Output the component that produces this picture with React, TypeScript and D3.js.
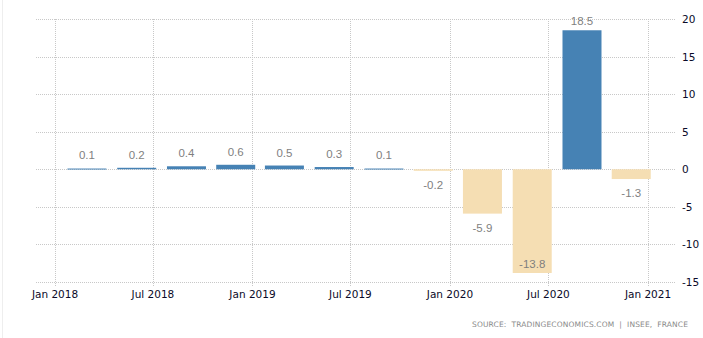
import React from "react";
import * as d3 from "d3";

const quarterDates = [
  "2018-03-01", "2018-06-01", "2018-09-01", "2018-12-01",
  "2019-03-01", "2019-06-01", "2019-09-01", "2019-12-01",
  "2020-03-01", "2020-06-01", "2020-09-01", "2020-12-01",
];
const gdpGrowth = [0.1, 0.2, 0.4, 0.6, 0.5, 0.3, 0.1, -0.2, -5.9, -13.8, 18.5, -1.3];
const xTickDates = ["2018-01-01", "2018-07-01", "2019-01-01", "2019-07-01", "2020-01-01", "2020-07-01", "2021-01-01"];
const xTickLabels = ["Jan 2018", "Jul 2018", "Jan 2019", "Jul 2019", "Jan 2020", "Jul 2020", "Jan 2021"];
const yTicks = [20, 15, 10, 5, 0, -5, -10, -15];
const sourceText = "SOURCE:  TRADINGECONOMICS.COM  |  INSEE,  FRANCE";

const W = 703;
const H = 338;
const plotTop = 19;
const plotBottom = 282;
const gridLeft = 36;
const gridRight = 676;

export default function App() {
  const parse = d3.timeParse("%Y-%m-%d");
  const x = d3.scaleTime()
    .domain([parse("2018-01-01")!, parse("2021-01-01")!])
    .range([55, 648]);
  const y = d3.scaleLinear().domain([-15, 20]).range([plotBottom, plotTop]);
  const barW = 39;
  const font = "'Liberation Sans', Arial, sans-serif";
  const axisFont = "'DejaVu Sans', Verdana, sans-serif";

  return (
    <svg width={W} height={H} style={{ position: "absolute", left: 0, top: 0, background: "#fff" }}>
      <line x1={2.5} x2={2.5} y1={0} y2={H} stroke="#eeeeee" />
      {yTicks.map((t) => (
        <line key={"hg" + t} x1={gridLeft} x2={gridRight} y1={Math.round(y(t)) + 0.5} y2={Math.round(y(t)) + 0.5}
          stroke="#c8c8c8" strokeDasharray="1,1" />
      ))}
      {xTickDates.map((d) => {
        const xx = Math.round(x(parse(d)!)) + 0.5;
        return <line key={"vg" + d} x1={xx} x2={xx} y1={plotTop} y2={plotBottom + 4} stroke="#c8c8c8" strokeDasharray="1,1" />;
      })}
      {gdpGrowth.map((v, i) => {
        const cx = x(parse(quarterDates[i])!);
        const y0 = y(0);
        const yv = y(v);
        const top = Math.min(y0, yv);
        const h = Math.max(Math.abs(yv - y0), 1);
        return (
          <rect key={"b" + i} x={cx - barW / 2} y={top} width={barW} height={h}
            fill={v >= 0 ? "#4682b4" : "#f5deb3"} />
        );
      })}
      {gdpGrowth.map((v, i) => {
        const cx = x(parse(quarterDates[i])!);
        const yv = y(v);
        const cy = v >= 0
          ? Math.max(Math.min(yv, y(0) - 1) - 13, plotTop + 2)
          : Math.min(Math.max(yv, y(0) + 1) + 14, plotBottom - 18);
        return (
          <text key={"l" + i} x={cx} y={cy} textAnchor="middle" dominantBaseline="central"
            fontFamily={font} fontSize={11.5} fill="#7f7f7f">
            {v.toFixed(1)}
          </text>
        );
      })}
      {xTickDates.map((d, i) => (
        <text key={"xt" + d} x={x(parse(d)!)} y={294} textAnchor="middle" dominantBaseline="central"
          fontFamily={axisFont} fontSize={10.5} fill="#0a0a28">
          {xTickLabels[i]}
        </text>
      ))}
      {yTicks.map((t) => (
        <text key={"yt" + t} x={682} y={y(t)} dominantBaseline="central"
          fontFamily={axisFont} fontSize={10.5} fill="#0a0a28">
          {t}
        </text>
      ))}
      <text x={688} y={324} textAnchor="end" dominantBaseline="central" fontFamily={axisFont}
        fontSize={7.5} fill="#8a8a8a" textLength={216} lengthAdjust="spacing" style={{ whiteSpace: "pre" }}>
        {sourceText}
      </text>
    </svg>
  );
}
